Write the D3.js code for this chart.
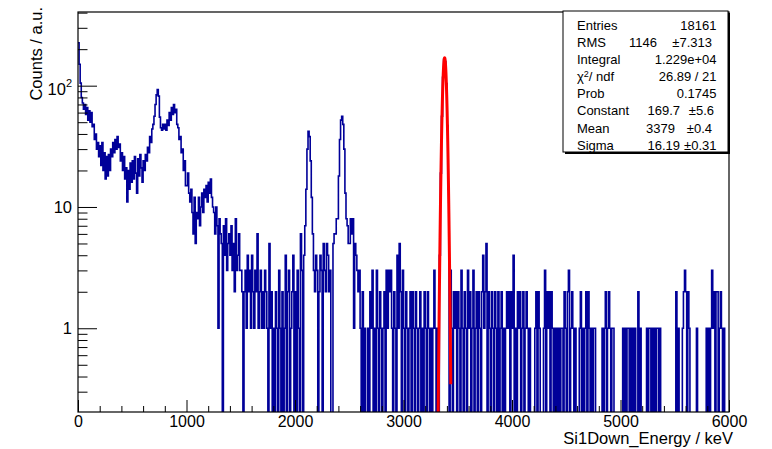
<!DOCTYPE html>
<html>
<head>
<meta charset="utf-8">
<script src="https://cdn.jsdelivr.net/npm/d3@7"></script>
<style>
  html, body { margin: 0; padding: 0; background: #fff; }
  svg { display: block; }
  text { font-family: "Liberation Sans", Arial, Helvetica, sans-serif; fill: #000; }
</style>
</head>
<body>
<svg id="chart" width="772" height="449"></svg>
<script>
// ---------------- data ----------------
const binWidth = 10;          // keV per bin
const xRange = [0, 6000];
const yRange = [0.204, 405];
const xTickValues = [0, 1000, 2000, 3000, 4000, 5000, 6000];
const yMajorValues = [1, 10, 100];
const yMajorLabels = ["1", "10", "10^2"];

// counts per 10 keV bin, split per 1000 keV
const counts0to1000 = [
  226,150,105,80,72,64,70,58,66,52,
  62,50,60,46,48,36,40,30,34,26,
  32,22,34,20,28,17,26,18,27,20,
  30,26,34,28,36,30,38,31,33,24,
  28,20,26,17,21,11,20,14,23,16,
  24,17,26,19,13,25,18,27,21,16,
  24,20,27,24,31,28,38,34,44,48,
  56,70,84,93,82,55,45,43,48,44,
  48,43,52,47,60,52,66,58,70,60,
  64,48,45,36,38,28,30,20,24,15];
const counts1000to2000 = [
  15,19,13,11,14,9,6,12,5,9,
  8,12,7,10,13,9,14,12,15,11,
  16,13,17,12,10,9,6,10,7,1,
  8,6,5,0,7,4,8,3,5,6,
  4,7,3,5,2,8,3,4,6,3,
  3,2,0,2,3,1,4,2,3,1,
  4,2,1,3,2,6,1,2,3,1,
  2,1,3,2,1,0,5,1,2,0,
  1,0,2,1,0,3,1,0,2,0,
  1,4,0,2,3,0,1,2,4,0];
const counts2000to3000 = [
  2,0,3,1,0,6,3,0,4,7,
  14,30,42,38,24,12,6,3,2,4,
  3,0,2,4,3,0,5,3,2,5,
  4,2,3,0,0,5,6,6,8,8,
  18,36,52,56,48,30,13,8,7,5,
  5,8,6,8,1,5,4,3,2,3,
  1,0,2,0,1,0,0,1,0,2,
  1,3,0,1,0,3,1,0,2,1,
  0,1,2,0,3,1,3,2,3,1,
  0,2,1,0,4,1,5,2,0,3];
const counts3000to4000 = [
  1,0,2,1,0,1,2,0,2,1,
  0,2,1,0,1,2,0,1,0,2,
  1,0,2,1,0,1,0,1,3,1,
  0,1,0,4,19,56,117,165,158,104,
  47,14,0,3,1,0,2,1,2,0,
  2,1,0,3,1,0,2,1,0,3,
  1,2,0,1,3,0,1,2,0,2,
  1,0,2,4,1,2,5,0,2,1,
  0,2,1,0,2,1,0,2,0,1,
  2,0,1,0,1,2,1,2,0,2];
const counts4000to5000 = [
  1,4,0,1,0,2,1,2,0,1,
  2,0,1,2,1,0,1,0,0,0,
  0,1,2,0,2,1,0,0,0,1,
  3,0,2,1,2,0,2,1,0,1,
  0,1,0,1,0,1,1,0,2,1,
  0,2,3,0,1,2,1,0,1,0,
  0,0,1,2,0,1,0,1,2,0,
  2,1,0,1,0,1,1,0,0,0,
  0,0,0,1,0,1,2,0,1,2,
  1,0,1,1,0,0,0,0,0,0];
const counts5000to6000 = [
  0,0,1,0,1,0,1,1,0,1,
  0,1,0,1,0,0,2,0,1,0,
  0,0,0,0,1,0,1,1,0,1,
  0,1,0,1,1,0,1,0,0,0,
  0,0,0,0,0,0,0,0,0,0,
  0,2,0,1,0,0,0,1,2,3,
  2,0,2,1,0,0,0,0,0,0,
  1,0,0,0,0,0,0,0,0,1,
  0,1,0,1,3,1,2,0,2,2,
  0,1,2,1,0,1,0,0,0,0];

// Gaussian fit shown in the stats box
const fitConstant = 169.7, fitMean = 3379, fitSigma = 16.19;
const fitRange = [3315, 3436];

const statLabels = ["Entries", "RMS", "Integral", "χ2/ ndf", "Prob", "Constant", "Mean", "Sigma"];
const statValues = ["18161", "1146", "1.229e+04", "26.89 / 21", "0.1745", "169.7", "3379", "16.19"];
const statErrors = ["", "±7.313", "", "", "", "±5.6", "±0.4", "±0.31"];

const xTitle = "Si1Down_Energy / keV";
const yTitle = "Counts / a.u.";

// ---------------- layout ----------------
const L = 78, R = 729, T = 12, B = 412;
const svg = d3.select("#chart");

const x = d3.scaleLinear().domain(xRange).range([L, R]);
const y = d3.scaleLog().domain(yRange).range([B, T]);

svg.append("defs").append("clipPath").attr("id", "frameClip")
  .append("rect").attr("x", L).attr("y", T).attr("width", R - L).attr("height", B - T);

// ---------------- histogram ----------------
const counts = [].concat(counts0to1000, counts1000to2000, counts2000to3000,
                         counts3000to4000, counts4000to5000, counts5000to6000);
const pts = counts.map((c, i) => ({ e: xRange[0] + i * binWidth, c }));
pts.push({ e: xRange[0] + counts.length * binWidth, c: counts[counts.length - 1] });
const yOf = c => c > 0 ? y(c) : B + 4;

const histLine = d3.line().x(d => x(d.e)).y(d => yOf(d.c)).curve(d3.curveStepAfter);
svg.append("path")
  .datum(pts)
  .attr("clip-path", "url(#frameClip)")
  .attr("d", histLine)
  .attr("fill", "none")
  .attr("stroke", "#000099")
  .attr("stroke-width", 1.6)
  .attr("stroke-linejoin", "miter");

// ---------------- fit function ----------------
const fitPts = d3.range(fitRange[0], fitRange[1] + 0.01, 0.25).map(e => ({
  e, v: fitConstant * Math.exp(-0.5 * Math.pow((e - fitMean) / fitSigma, 2))
}));
svg.append("path")
  .datum(fitPts)
  .attr("clip-path", "url(#frameClip)")
  .attr("d", d3.line().x(d => x(d.e)).y(d => Math.min(y(Math.max(d.v, 1e-3)), B + 10)))
  .attr("fill", "none")
  .attr("stroke", "#ff0000")
  .attr("stroke-width", 3);

// ---------------- axes ----------------
const fontSize = 16.5;

// x axis major
const xAxis = d3.axisBottom(x).tickValues(xTickValues).tickSize(-12).tickSizeOuter(0)
  .tickPadding(3).tickFormat(d3.format("d"));
const gx = svg.append("g").attr("transform", `translate(0,${B})`).call(xAxis);
gx.select(".domain").remove();
gx.selectAll("text").attr("font-size", 16).attr("font-family", null).attr("dy", "0.72em");
gx.selectAll("line").attr("stroke", "#000");

// x axis minor
const xMinor = d3.range(xRange[0], xRange[1] + 1, 200).filter(v => v % 1000 !== 0);
const gxm = svg.append("g").attr("transform", `translate(0,${B})`)
  .call(d3.axisBottom(x).tickValues(xMinor).tickSize(-6).tickSizeOuter(0).tickFormat(""));
gxm.select(".domain").remove();
gxm.selectAll("line").attr("stroke", "#000");

// y axis major
const yAxis = d3.axisLeft(y).tickValues(yMajorValues).tickSize(-19).tickSizeOuter(0)
  .tickPadding(6).tickFormat((d, i) => yMajorLabels[i]);
const gy = svg.append("g").attr("transform", `translate(${L},0)`).call(yAxis);
gy.select(".domain").remove();
gy.selectAll("line").attr("stroke", "#000");
gy.selectAll("text").attr("font-size", fontSize).attr("font-family", null).each(function(d) {
  const t = d3.select(this);
  const s = t.text();
  if (s.includes("^")) {
    const [base, exp] = s.split("^");
    t.text(null).attr("dy", "0.55em");
    t.append("tspan").text(base);
    t.append("tspan").attr("font-size", 11).attr("dy", "-0.75em").text(exp);
  }
});

// y axis minor
const yMinor = [];
for (let p = -1; p <= 2; p++) for (let m = 2; m <= 9; m++) {
  const v = m * Math.pow(10, p);
  if (v > yRange[0] && v < yRange[1]) yMinor.push(v);
}
const gym = svg.append("g").attr("transform", `translate(${L},0)`)
  .call(d3.axisLeft(y).tickValues(yMinor).tickSize(-9.5).tickSizeOuter(0).tickFormat(""));
gym.select(".domain").remove();
gym.selectAll("line").attr("stroke", "#000");

// frame
svg.append("rect").attr("x", L).attr("y", T).attr("width", R - L).attr("height", B - T)
  .attr("fill", "none").attr("stroke", "#000").attr("stroke-width", 1.2);

// titles
svg.append("text").attr("x", 733).attr("y", 444).attr("text-anchor", "end")
  .attr("font-size", fontSize).text(xTitle);
svg.append("text").attr("transform", "translate(41.5,7) rotate(-90)").attr("text-anchor", "end")
  .attr("font-size", fontSize).text(yTitle);

// ---------------- stats box ----------------
const bx = 563, by = 11, bw = 165, bh = 141;
svg.append("rect").attr("x", bx + 2).attr("y", by + 2).attr("width", bw).attr("height", bh).attr("fill", "#000");
svg.append("rect").attr("x", bx).attr("y", by).attr("width", bw).attr("height", bh)
  .attr("fill", "#fff").attr("stroke", "#000").attr("stroke-width", 1);

const rowCenters = d3.range(8).map(i => 25 + i * 17.15);
const valueEnds = [716.5, 657, 716.5, 716.5, 716.5, 680, 675, 680];
const errorEnds = [0, 712, 0, 0, 0, 714, 712, 716.5];
const gs = svg.append("g").attr("font-size", 13);
statLabels.forEach((lab, i) => {
  const yy = rowCenters[i] + 4.6;
  const t = gs.append("text").attr("x", 577).attr("y", yy);
  if (lab.startsWith("χ2")) {
    t.append("tspan").text("χ");
    t.append("tspan").attr("font-size", 9).attr("dy", "-0.5em").text("2");
    t.append("tspan").attr("dy", "0.35em").text("/ ndf");
  } else {
    t.text(lab);
  }
  gs.append("text").attr("x", valueEnds[i]).attr("y", yy).attr("text-anchor", "end").text(statValues[i]);
  if (statErrors[i]) {
    gs.append("text").attr("x", errorEnds[i]).attr("y", yy).attr("text-anchor", "end").text(statErrors[i]);
  }
});
</script>
</body>
</html>
